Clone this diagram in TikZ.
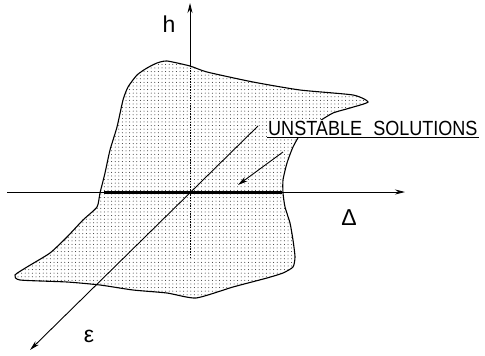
\documentclass[tikz,border=0pt]{standalone}
\usepackage{fontspec}
\setmainfont{Liberation Sans}
\usetikzlibrary{arrows.meta,patterns.meta}
\tikzset{
  axisline/.style={line width=0.9pt,-{Stealth[length=10pt,width=5pt]}},
  plainaxis/.style={line width=0.9pt},
  dotaxis/.style={line width=0.9pt, dash pattern=on 1.5pt off 1.2pt},
  biglabel/.style={font=\fontsize{23}{23}\selectfont, inner sep=0pt},
  region/.style={line width=1.1pt, pattern={Dots[distance=3.6pt, radius=0.5pt]}, pattern color=black!85},
  thickseg/.style={line width=3pt},
  notelabel/.style={inner sep=1pt, fill=white}
}
\begin{document}
\begin{tikzpicture}[x=1pt,y=-1pt]
\useasboundingbox (0,0) rectangle (485,356);
\fill[white] (0,0) rectangle (485,356);
% region
\draw[region] plot[smooth cycle, tension=0.35] coordinates {
(167,61) (190,66) (207,72) (253,82) (300,90) (353,95) (368,102) (350,108) (333,113) (318,122) (302,132) (293,147) (287,163) (283,180) (283,193) (285,207) (290,223) (293,240) (295,257) (293,267) (283,273) (267,278) (233,287) (196,298) (167,293) (133,290) (100,285) (67,282) (20,280) (15,275) (27,267) (50,253) (67,237) (83,220) (97,207) (100,193) (105,173) (110,150) (117,127) (123,100) (128,87) (137,75) (147,68) (157,63)};
% axes
\coordinate (O) at (190,192);
\coordinate (xs) at (7,192);
\coordinate (xe) at (405,192);
\coordinate (ys) at (190,258);
\coordinate (ym) at (190,66);
\coordinate (ye) at (190,3);
\coordinate (es) at (258,126);
\coordinate (ee) at (30,350);
\draw[axisline] (xs) -- (xe);
\draw[dotaxis] (ys) -- (ym);
\draw[axisline] (ym) -- (ye);
\draw[axisline] (es) -- (ee);
% unstable segment
\coordinate (ua) at (104,192);
\coordinate (ub) at (282,192);
\draw[thickseg] (ua) -- (ub);
% labels
\node[biglabel] (h) at (169,24) {h};
\node[biglabel] (D) at (349,218) {Δ};
\node[biglabel] (eps) at (89,336) {ε};
\node[notelabel, anchor=south west] (uns) at (267,137) {\scalebox{0.88}[1]{\fontsize{20.5}{20.5}\selectfont UNSTABLE\hspace{7pt} SOLUTIONS}};
\draw[line width=0.8pt] (uns.south west) -- (uns.south east);
\coordinate (pa) at (283,152);
\coordinate (pb) at (238,185);
\draw[axisline] (pa) -- (pb);
\end{tikzpicture}
\end{document}
